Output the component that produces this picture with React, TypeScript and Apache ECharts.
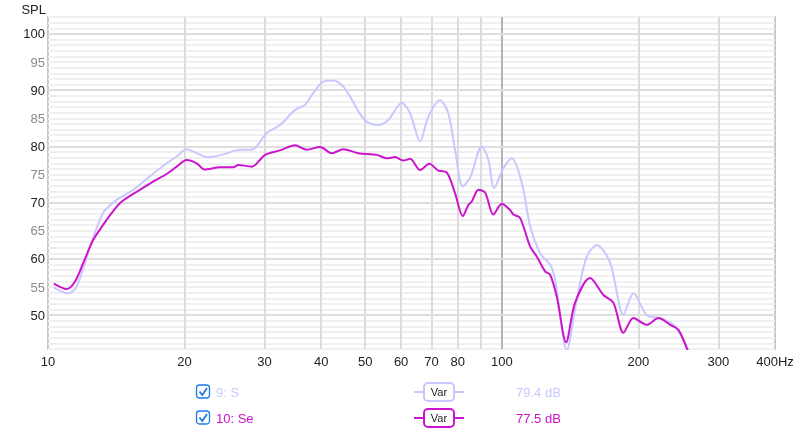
import React, { useEffect, useRef } from "react";
import * as echarts from "echarts";

const FONT = '"Liberation Sans", Arial, Helvetica, sans-serif';
const LAV = "#c8c8ff";
const MAG = "#cc14cc";

// Series "9: S"
const sFreq = [10.3, 11.08, 11.57, 12.38, 13.24, 14.17, 15.42, 16.78, 18.26, 19.21, 20.2, 21.27, 22.38, 24.14, 26.5, 28.12, 30.34, 32.45, 35.04, 36.86, 38.43, 40.44, 42.55, 44.76, 46.5, 48.5, 50.4, 53.5, 56.2, 60.2, 62.8, 66.06, 68.9, 73.1, 76.24, 78.88, 82.0, 85.1, 90.35, 93.44, 96.18, 100.8, 105.2, 110.7, 115.5, 121.5, 127.8, 131.1, 139.1, 146.3, 153.9, 162.0, 173.3, 185.4, 195.0, 208.7, 223.4, 241.0, 259.0];
const sVals = [54.9, 53.9, 55.1, 62.2, 68.2, 70.5, 72.3, 74.7, 77.0, 78.2, 79.5, 78.8, 78.1, 78.5, 79.4, 79.4, 82.4, 83.8, 86.5, 87.4, 89.5, 91.5, 91.7, 90.6, 88.6, 86.0, 84.4, 83.8, 84.7, 87.7, 85.9, 80.9, 85.3, 88.2, 85.9, 79.4, 72.9, 74.4, 80.0, 77.6, 72.6, 76.1, 77.9, 73.5, 65.8, 61.0, 59.0, 56.3, 43.8, 52.8, 60.4, 62.5, 59.3, 50.1, 53.9, 50.0, 49.5, 48.0, 43.5];

// Series "10: Se"
const eFreq = [10.3, 10.99, 11.47, 11.96, 12.58, 13.24, 13.82, 14.54, 15.95, 17.07, 18.26, 19.21, 20.2, 21.27, 22.1, 23.93, 25.61, 26.27, 28.12, 30.1, 32.45, 35.04, 37.18, 39.76, 42.2, 44.76, 48.3, 53.04, 55.79, 58.18, 60.69, 62.8, 66.06, 69.25, 72.49, 75.62, 78.88, 82.04, 84.41, 85.89, 88.81, 91.88, 95.83, 100, 104.3, 106.1, 109.7, 115.5, 119.5, 124.6, 127.8, 132.2, 138.6, 145.0, 156.5, 167.5, 176.2, 185.4, 195.0, 208.7, 221.4, 234.9, 245.0, 256.5];
const eVals = [55.6, 54.65, 56.0, 59.3, 63.4, 66.1, 68.2, 70.2, 72.3, 73.8, 75.1, 76.4, 77.6, 77.0, 75.9, 76.3, 76.3, 76.7, 76.4, 78.5, 79.3, 80.2, 79.4, 79.9, 78.8, 79.5, 78.8, 78.5, 77.9, 78.1, 77.5, 77.8, 75.8, 76.9, 75.7, 75.4, 71.7, 67.6, 69.6, 70.2, 72.3, 71.8, 67.9, 69.8, 68.7, 67.9, 67.3, 62.2, 60.4, 57.8, 57.2, 53.3, 45.2, 52.2, 56.6, 53.6, 52.2, 46.9, 49.5, 48.3, 49.5, 48.3, 47.4, 43.8];

// Axes
const xGridFreqs = [20, 30, 40, 50, 60, 70, 80, 90, 200, 300];
const xMainFreq = 100;
const xLabels: [number, string][] = [[10, "10"], [20, "20"], [30, "30"], [40, "40"], [50, "50"], [60, "60"], [70, "70"], [80, "80"], [100, "100"], [200, "200"], [300, "300"], [400, "400Hz"]];
const yMajor = [50, 60, 70, 80, 90, 100];

// Legend
const legendNames = ["9: S", "10: Se"];
const legendValues = ["79.4 dB", "77.5 dB"];
const legendColors = [LAV, MAG];

export default function App() {
  const ref = useRef<HTMLDivElement>(null);
  useEffect(() => {
    if (!ref.current) return;
    const chart = echarts.init(ref.current, undefined, { renderer: "svg" });
    const sData = sFreq.map((f, i) => [f, sVals[i]]);
    const eData = eFreq.map((f, i) => [f, eVals[i]]);

    const gridLines: any[] = [];
    xGridFreqs.forEach((f) =>
      gridLines.push({ xAxis: f, lineStyle: { color: "#dcdcdc", width: 2, type: "solid" } })
    );
    gridLines.push({ xAxis: xMainFreq, lineStyle: { color: "#b4b4b4", width: 2, type: "solid" } });
    yMajor.forEach((v) =>
      gridLines.push({ yAxis: v, lineStyle: { color: "#dedede", width: 2, type: "solid" } })
    );

    const labelLines = xLabels.map(([f, t]) => ({
      xAxis: f,
      lineStyle: { color: "rgba(0,0,0,0)", width: 0 },
      label: {
        show: true,
        position: "start",
        formatter: t,
        color: "#222",
        fontSize: 13,
        fontFamily: FONT,
        distance: 6,
      },
    }));

    const graphic: any[] = [];
    legendNames.forEach((name, i) => {
      const cy = 392 + i * 26;
      graphic.push({
        type: "rect",
        shape: { x: 196.5, y: cy - 7, width: 13, height: 13, r: 3 },
        style: { fill: "#fff", stroke: "#1f7ae8", lineWidth: 1.3 },
      });
      graphic.push({
        type: "polyline",
        shape: { points: [[199.5, cy - 0.5], [202.3, cy + 3], [207, cy - 4]] },
        style: { stroke: "#1f7ae8", lineWidth: 1.8, fill: null },
      });
      graphic.push({
        type: "text",
        style: { x: 216, y: cy, text: name, fill: legendColors[i], font: `13px ${FONT}`, verticalAlign: "middle", textAlign: "left" },
      });
      graphic.push({
        type: "line",
        shape: { x1: 414, y1: cy, x2: 464, y2: cy },
        style: { stroke: legendColors[i], lineWidth: 2 },
      });
      graphic.push({
        type: "rect",
        shape: { x: 424, y: cy - 9, width: 30, height: 18, r: 4 },
        style: { fill: "#fff", stroke: legendColors[i], lineWidth: 2 },
      });
      graphic.push({
        type: "text",
        style: { x: 439, y: cy, text: "Var", fill: "#222", font: `11px ${FONT}`, verticalAlign: "middle", textAlign: "center" },
      });
      graphic.push({
        type: "text",
        style: { x: 516, y: cy, text: legendValues[i], fill: legendColors[i], font: `13px ${FONT}`, verticalAlign: "middle", textAlign: "left" },
      });
    });

    chart.setOption({
      animation: false,
      textStyle: { fontFamily: FONT },
      grid: { left: 48, right: 25, top: 17, bottom: 84, show: true, borderColor: "#c8c8c8", borderWidth: 2, backgroundColor: "transparent" },
      xAxis: {
        type: "log",
        logBase: 10,
        min: 10,
        max: 400,
        axisLine: { show: false },
        axisTick: { show: false },
        axisLabel: { show: false },
        splitLine: { show: false },
        minorSplitLine: { show: false },
      },
      yAxis: {
        type: "value",
        min: 44,
        max: 103,
        interval: 1,
        name: "SPL",
        nameLocation: "end",
        nameGap: 8,
        nameTextStyle: { color: "#222", fontSize: 13, align: "right", verticalAlign: "middle", padding: [0, 2, 0, 0] },
        axisLine: { show: false },
        axisTick: { show: false },
        axisLabel: {
          margin: 3,
          fontSize: 13,
          formatter: (v: number) => (v % 5 === 0 && v >= 50 && v <= 100 ? String(v) : ""),
          color: (v: any) => (Number(v) % 10 === 0 ? "#222" : "#8a8a8a"),
        },
        splitLine: { show: true, lineStyle: { color: "#f0f0f0", width: 2 } },
      },
      series: [
        {
          type: "line",
          name: "grid",
          data: [],
          silent: true,
          z: 1,
          markLine: { silent: true, symbol: "none", z: 1, animation: false, label: { show: false }, data: gridLines },
        },
        {
          type: "line",
          name: "labels",
          data: [],
          silent: true,
          z: 1,
          markLine: { silent: true, symbol: "none", z: 1, animation: false, data: labelLines },
        },
        {
          type: "line",
          name: "9: S",
          data: sData,
          showSymbol: false,
          smooth: 0.3,
          lineStyle: { color: LAV, width: 2 },
          itemStyle: { color: LAV },
          z: 3,
        },
        {
          type: "line",
          name: "10: Se",
          data: eData,
          showSymbol: false,
          smooth: 0.3,
          lineStyle: { color: MAG, width: 2 },
          itemStyle: { color: MAG },
          z: 4,
        },
      ],
      graphic,
    });
    return () => chart.dispose();
  }, []);
  return <div ref={ref} style={{ position: "fixed", left: 0, top: 0, width: 800, height: 433 }} />;
}
